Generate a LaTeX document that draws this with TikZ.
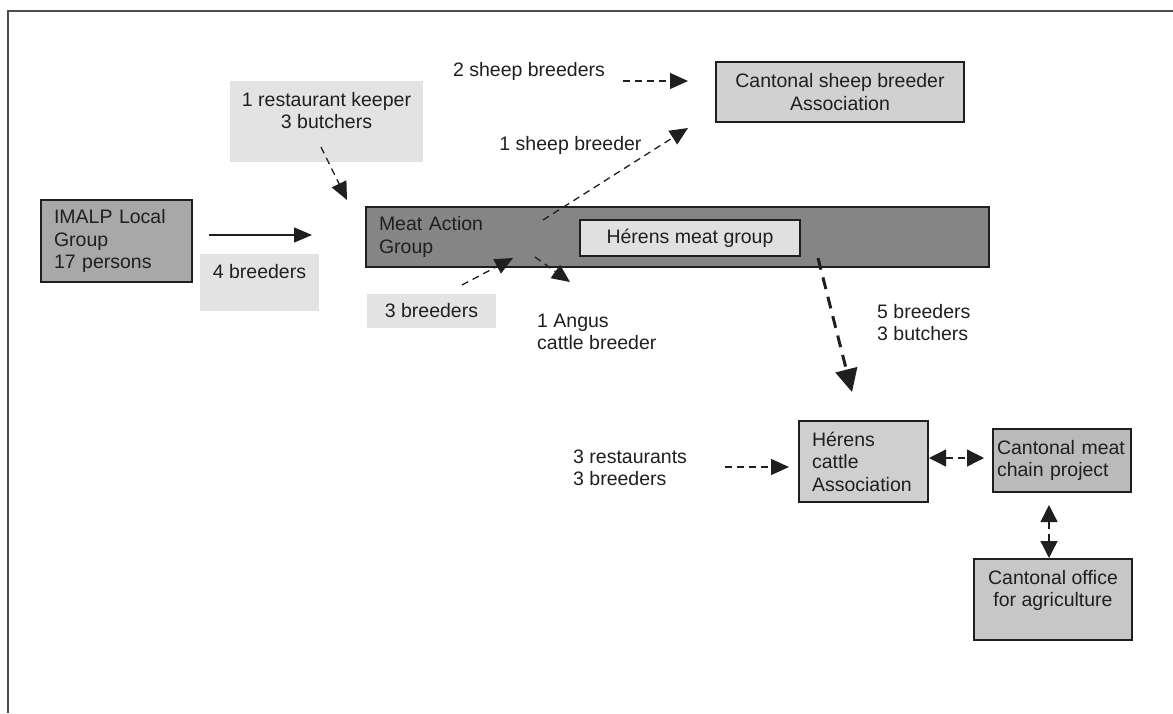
\documentclass[tikz,border=0pt]{standalone}
\usepackage{fontspec}
\setmainfont{Liberation Sans}
\usetikzlibrary{arrows.meta}
\definecolor{gIM}{gray}{0.66}
\definecolor{gMA}{gray}{0.52}
\definecolor{gHM}{gray}{0.88}
\definecolor{gCS}{gray}{0.82}
\definecolor{gHC}{gray}{0.81}
\definecolor{gMC}{gray}{0.73}
\definecolor{gOF}{gray}{0.78}
\definecolor{gLB}{gray}{0.89}
\definecolor{ink}{gray}{0.12}
\tikzset{
  box/.style={draw=ink, line width=1.4pt, inner sep=0pt, text=ink},
  lblbox/.style={fill=gLB, inner sep=0pt, text=ink, align=center},
  lbl/.style={inner sep=0pt, text=ink, align=left},
  thinarrow/.style={draw=ink, line width=1.3pt, dash pattern=on 7pt off 5pt, -{Triangle[length=18pt,width=16pt]}},
  bigarrow/.style={draw=ink, line width=3pt, dash pattern=on 12pt off 8pt, -{Triangle[length=23pt,width=22pt]}},
  solidarrow/.style={draw=ink, line width=1.5pt, -{Triangle[length=18pt,width=15pt]}},
  dblarrow/.style={draw=ink, line width=1.3pt, dash pattern=on 7pt off 5pt, {Triangle[length=17pt,width=17pt]}-{Triangle[length=17pt,width=17pt]}},
  frameline/.style={draw=black!70, line width=1.5pt}
}
\begin{document}
\begin{tikzpicture}[x=1pt, y=-1pt, font=\fontsize{19.5}{22.5}\selectfont]
\useasboundingbox (0,0) rectangle (1173,713);
\draw[frameline] (8,713) -- (8,11) -- (1173,11);

% boxes
\node[box, fill=gIM, minimum width=151, minimum height=82, text width=125, inner xsep=13, align=left] (imalp) at (116.5,241) {IMALP Local\\Group\\17 persons};
\node[box, fill=gMA, minimum width=623, minimum height=60, text width=597, inner xsep=13, align=left] (mag) at (677.5,237) {Meat Action\\Group};
\node[box, fill=gHM, minimum width=220, minimum height=36, align=center] (hmg) at (690,238) {Hérens meat group};
\node[box, fill=gCS, minimum width=248, minimum height=60, align=center] (csba) at (840,92) {Cantonal sheep breeder\\Association};
\node[box, fill=gHC, minimum width=129, minimum height=81, text width=103, inner xsep=13, align=left] (hca) at (863.5,461.5) {Hérens\\cattle\\Association};
\node[box, fill=gMC, minimum width=138, minimum height=63, text width=130, inner xsep=4, align=left] (cmc) at (1062,460.5) {Cantonal meat\\chain project};
\node[box, fill=gOF, minimum width=158, minimum height=81, align=center] (cof) at (1053,599.5) {Cantonal office\\for agriculture\\\phantom{X}};

% label boxes
\node[lblbox, minimum width=193, minimum height=81] (rest) at (326.5,121.5) {1 restaurant keeper\\3 butchers\\\phantom{X}};
\node[lblbox, minimum width=119, minimum height=57] (four) at (259.5,282.5) {4 breeders\\\phantom{X}};
\node[lblbox, minimum width=129, minimum height=34] (three) at (431.5,311) {3 breeders};

% plain labels
\node[lbl] (twosheep) at (529,71) {2 sheep breeders};
\node[lbl] (onesheep) at (570.5,145) {1 sheep breeder};
\node[lbl, anchor=west] (five) at (877,322.5) {5 breeders\\3 butchers};
\node[lbl, anchor=west] (angus) at (537,332) {1 Angus\\cattle breeder};
\node[lbl, anchor=west] (threerest) at (573,468) {3 restaurants\\3 breeders};

% connector end points
\coordinate (a1s) at (209,235);  \coordinate (a1e) at (312,235);
\coordinate (a2s) at (321,147);  \coordinate (a2e) at (347,200);
\coordinate (a3s) at (462,285);  \coordinate (a3e) at (513,258);
\coordinate (a4s) at (535,257);  \coordinate (a4e) at (570,282);
\coordinate (a5s) at (543,220);  \coordinate (a5e) at (688,128);
\coordinate (a6s) at (623,81);   \coordinate (a6e) at (688,81);
\coordinate (a7s) at (818,258);  \coordinate (a7e) at (852,392);
\coordinate (a8s) at (725,467);  \coordinate (a8e) at (789,467);
\coordinate (a9s) at (929,458);  \coordinate (a9e) at (984,458);
\coordinate (a10s) at (1049,505); \coordinate (a10e) at (1049,558);

\draw[solidarrow] (a1s) -- (a1e);
\draw[thinarrow] (a2s) -- (a2e);
\draw[thinarrow] (a3s) -- (a3e);
\draw[thinarrow] (a4s) -- (a4e);
\draw[thinarrow] (a5s) -- (a5e);
\draw[thinarrow] (a6s) -- (a6e);
\draw[bigarrow] (a7s) -- (a7e);
\draw[thinarrow] (a8s) -- (a8e);
\draw[dblarrow] (a9s) -- (a9e);
\draw[dblarrow] (a10s) -- (a10e);
\end{tikzpicture}
\end{document}
